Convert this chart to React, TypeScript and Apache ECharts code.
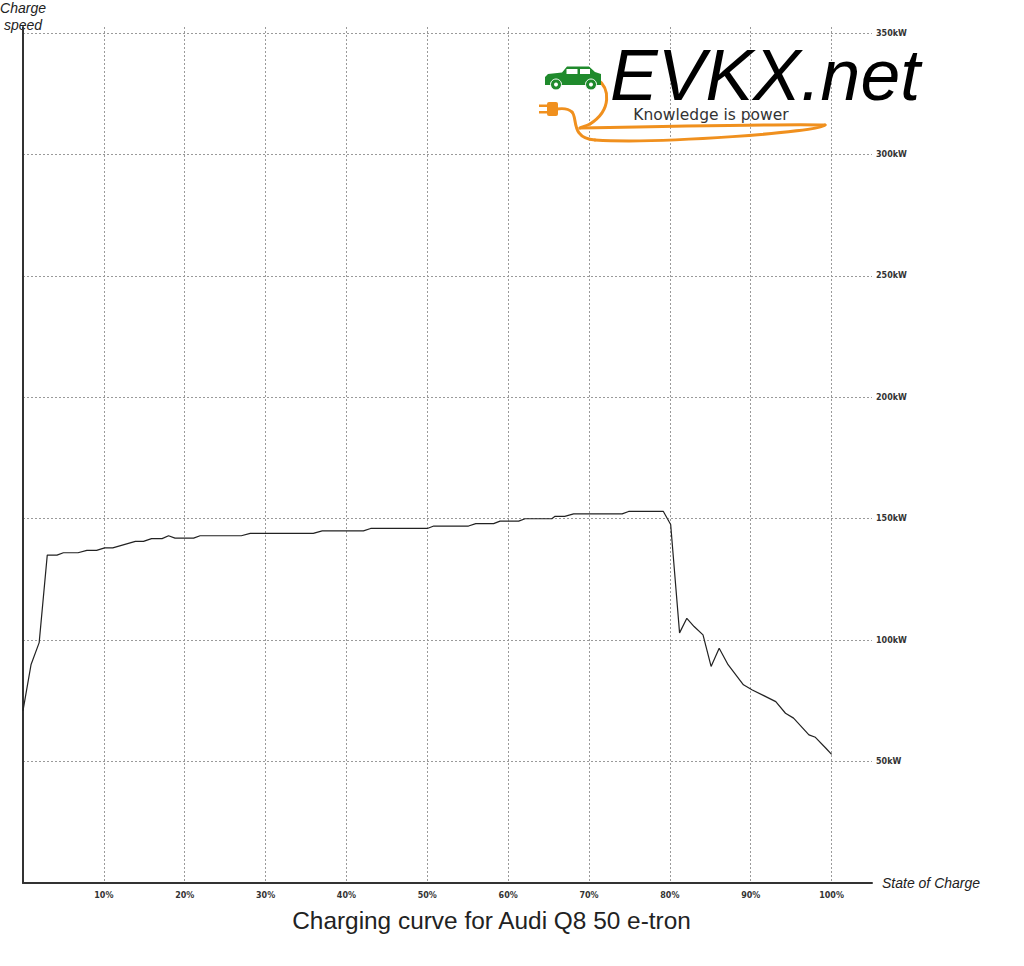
import React, { useEffect, useRef } from "react";
import * as echarts from "echarts";

// State of charge (%) and charging power (kW)
const soc = [0, 1, 2, 3, 4.2, 5, 6.8, 7.9, 9.1, 10.1, 11.1, 13.9, 14.9, 15.9, 17.2, 18, 18.8, 21.1, 21.9, 27, 28.1, 35.9, 37, 42.1, 43, 50, 50.8, 55.1, 56, 58.2, 59, 61.3, 62.1, 65.4, 65.8, 67, 68.1, 74.1, 74.9, 79.2, 79.7, 80.1, 81.2, 82.1, 83, 84.1, 85.1, 86.1, 87.2, 89.1, 90.2, 93.1, 94.3, 95.3, 97.2, 98, 99.3, 100];
const power = [71, 90, 99, 135, 135, 136, 136, 137, 137, 138, 138, 140.7, 140.7, 141.8, 141.8, 143, 142, 142, 143, 143, 144, 144, 145, 145, 146, 146, 147, 147, 148, 148, 149, 149, 150, 150, 151, 151, 152, 152, 153, 153, 150, 147.6, 103, 109, 105.6, 102.2, 89.2, 96.7, 89.9, 81.6, 79.5, 74.7, 69.9, 67.9, 61, 60, 55.5, 53];

const xUnit = "%";
const yUnit = "kW";
const xName = "State of Charge";
const yName = "Charge\nspeed";
const chartTitle = "Charging curve for Audi Q8 50 e-tron";
const logoText = "EVKX.net";
const logoSub = "Knowledge is power";

export default function App() {
  const ref = useRef<HTMLDivElement>(null);
  useEffect(() => {
    document.body.style.margin = "0";
    const chart = echarts.init(ref.current!, null, { renderer: "svg" });
    const lbl = { fontFamily: "DejaVu Sans", fontWeight: "bold" as const, fontSize: 8, color: "#333" };
    const split = { color: "#9a9a9a", type: [2, 2] as number[], width: 1 };
    const axisLn = { color: "#333", width: 2 };
    const nameStyle = { fontFamily: "Liberation Sans", fontStyle: "italic" as const, fontSize: 14, color: "#222" };
    const green = "#1f8a2c";
    const orange = "#f0901e";
    const cable = (x1: number, y1: number, cpx1: number, cpy1: number, cpx2: number, cpy2: number, x2: number, y2: number) => ({
      type: "bezierCurve",
      z: 10,
      shape: { x1, y1, cpx1, cpy1, cpx2, cpy2, x2, y2 },
      style: { stroke: orange, lineWidth: 3, fill: null, lineCap: "round" },
    });
    chart.setOption({
      animation: false,
      backgroundColor: "#fff",
      grid: { left: 23, right: 152, top: 27, bottom: 83, outerBoundsMode: "none", containLabel: false },
      xAxis: {
        type: "value",
        min: 0,
        max: 105,
        interval: 10,
        axisLine: { show: true, lineStyle: axisLn },
        axisTick: { show: false },
        axisLabel: { ...lbl, margin: 8, showMinLabel: false, showMaxLabel: false, formatter: (v: number) => v + xUnit },
        splitLine: { show: true, showMinLine: false, showMaxLine: false, lineStyle: split },
        name: xName,
        nameLocation: "end",
        nameGap: 10,
        nameTextStyle: nameStyle,
      },
      yAxis: [
        {
          type: "value",
          position: "left",
          min: 0,
          max: 352.5,
          interval: 50,
          axisLine: { show: true, onZero: false, lineStyle: axisLn },
          axisTick: { show: false },
          axisLabel: { show: false },
          splitLine: { show: true, showMinLine: false, showMaxLine: false, lineStyle: split },
          name: yName,
          nameLocation: "end",
          nameGap: -6,
          nameTextStyle: { ...nameStyle, lineHeight: 17, align: "center" },
        },
        {
          type: "value",
          position: "right",
          min: 0,
          max: 352.5,
          interval: 50,
          axisLine: { show: false, onZero: false },
          axisTick: { show: false },
          axisLabel: { ...lbl, margin: 4, showMinLabel: false, showMaxLabel: false, formatter: (v: number) => v + yUnit },
          splitLine: { show: false },
        },
      ],
      series: [
        {
          type: "line",
          yAxisIndex: 0,
          data: soc.map((s, i) => [s, power[i]]),
          showSymbol: false,
          silent: true,
          lineStyle: { color: "#222", width: 1.2 },
        },
      ],
      graphic: [
        {
          type: "text",
          x: 491.5,
          y: 920,
          style: { text: chartTitle, fontFamily: "Liberation Sans", fontSize: 24.4, fill: "#222", align: "center", verticalAlign: "middle", textAlign: "center", textVerticalAlign: "middle" },
        },
        {
          type: "text",
          x: 610,
          y: 75,
          z: 10,
          style: { text: logoText, fontFamily: "Liberation Sans", fontStyle: "italic", fontSize: 71.5, fill: "#000", align: "left", verticalAlign: "middle", textAlign: "left", textVerticalAlign: "middle" },
        },
        {
          type: "text",
          x: 711,
          y: 115,
          z: 10,
          style: { text: logoSub, fontFamily: "DejaVu Sans", fontSize: 15.5, fill: "#333", align: "center", verticalAlign: "middle", textAlign: "center", textVerticalAlign: "middle" },
        },
        cable(597, 79, 610, 88, 612, 110, 590, 124),
        cable(590, 124, 586, 126, 582, 127, 580, 128),
        cable(580, 128, 680, 126, 790, 124, 825, 125),
        cable(825, 125, 820, 132, 660, 144, 595, 140),
        cable(595, 140, 570, 138, 578, 118, 572, 112),
        cable(572, 112, 569, 109, 564, 108, 557, 109),
        {
          type: "polygon",
          z: 11,
          shape: { points: [[545, 77], [548, 74], [562, 72.5], [567, 66.5], [589, 66.5], [595, 72], [601, 74], [601, 85], [545, 85]] },
          style: { fill: green },
        },
        { type: "rect", z: 12, shape: { x: 566.5, y: 69, width: 11, height: 5 }, style: { fill: "#fff" } },
        { type: "rect", z: 12, shape: { x: 580, y: 69, width: 10, height: 5 }, style: { fill: "#fff" } },
        { type: "circle", z: 12, shape: { cx: 556, cy: 84.5, r: 5.5 }, style: { fill: green, stroke: "#fff", lineWidth: 1 } },
        { type: "circle", z: 12, shape: { cx: 591, cy: 84.5, r: 5.5 }, style: { fill: green, stroke: "#fff", lineWidth: 1 } },
        { type: "circle", z: 13, shape: { cx: 556, cy: 84.5, r: 2 }, style: { fill: "#fff" } },
        { type: "circle", z: 13, shape: { cx: 591, cy: 84.5, r: 2 }, style: { fill: "#fff" } },
        { type: "rect", z: 11, shape: { x: 547, y: 102, width: 11, height: 14, r: 2 }, style: { fill: orange } },
        { type: "rect", z: 11, shape: { x: 539, y: 104.5, width: 9, height: 2.5 }, style: { fill: orange } },
        { type: "rect", z: 11, shape: { x: 539, y: 111, width: 9, height: 2.5 }, style: { fill: orange } },
      ],
    });
    return () => chart.dispose();
  }, []);
  return <div ref={ref} style={{ width: 1024, height: 966 }} />;
}
